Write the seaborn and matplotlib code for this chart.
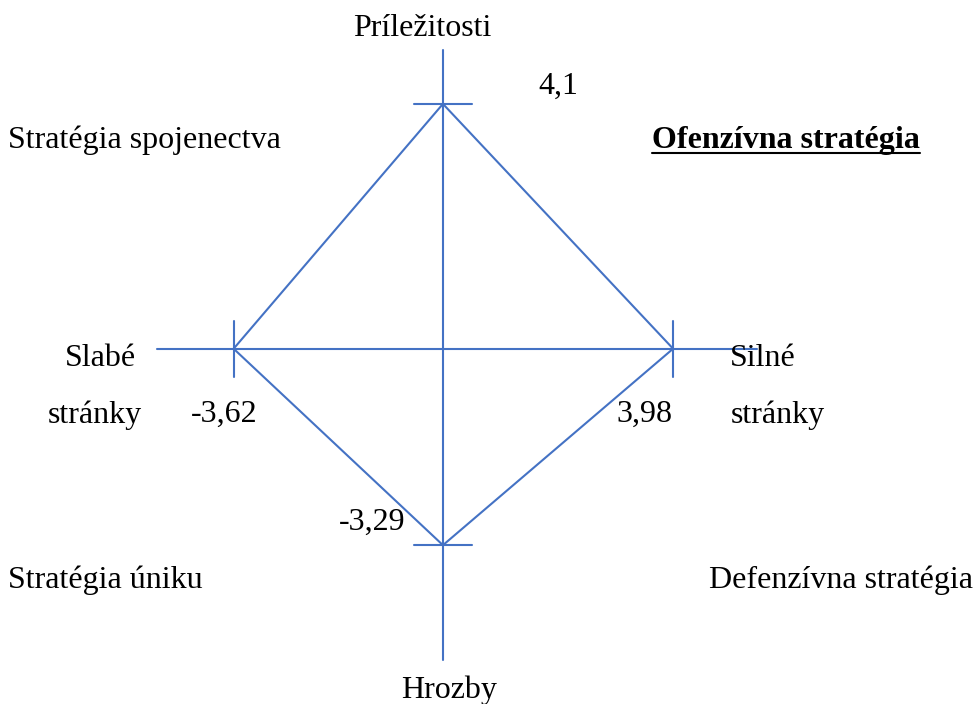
import matplotlib
matplotlib.use("Agg")
import matplotlib.pyplot as plt
import pandas as pd
import seaborn as sns

# SWOT scores
factors = ['Príležitosti', 'Silné stránky', 'Hrozby', 'Slabé stránky']
x_vals = [0.0, 3.98, 0.0, -3.62]
y_vals = [4.1, 0.0, -3.29, 0.0]
value_labels = ['4,1', '3,98', '-3,29', '-3,62']

BLUE = '#4472C4'
FS = 23

sns.set_theme(style='white')
plt.rcParams['font.family'] = ['Liberation Serif', 'DejaVu Serif']
plt.rcParams['text.color'] = 'black'

fig = plt.figure(figsize=(9.79, 7.04), dpi=100)
ax = fig.add_axes([0, 0, 1, 1])
ax.set_xlim(-7.66, 9.27)
ax.set_ylim(-5.95, 5.84)
ax.axis('off')

# axes cross
ax.plot([-4.95, 5.43], [0, 0], color=BLUE, lw=1.5)
ax.plot([0, 0], [-5.21, 5.0], color=BLUE, lw=1.5)

# diamond
df = pd.DataFrame({'x': x_vals + x_vals[:1], 'y': y_vals + y_vals[:1], 'order': range(5)})
sns.lineplot(data=df, x='x', y='y', sort=False, color=BLUE, lw=1.5, ax=ax, estimator=None)

# little ticks at each vertex
for xv, yv in zip(x_vals, y_vals):
    if xv == 0:
        ax.plot([xv - 0.5, xv + 0.5], [yv, yv], color=BLUE, lw=1.5)
    else:
        ax.plot([xv, xv], [yv - 0.47, yv + 0.47], color=BLUE, lw=1.5)

# value labels next to vertices
offsets = [(2.0, 0.3), (-0.49, -1.1), (-1.23, 0.39), (-0.17, -1.1)]
for xv, yv, lab, (dx, dy) in zip(x_vals, y_vals, value_labels, offsets):
    ax.text(xv + dx, yv + dy, lab, fontsize=FS, ha='center', va='center')

# axis names
ax.text(-0.35, 5.37, 'Príležitosti', fontsize=FS, ha='center', va='center')
ax.text(0.1, -5.72, 'Hrozby', fontsize=FS, ha='center', va='center')
ax.text(-6.54, -0.16, 'Slabé', fontsize=FS, ha='left', va='center')
ax.text(-6.83, -1.11, 'stránky', fontsize=FS, ha='left', va='center')
ax.text(4.97, -0.16, 'Silné', fontsize=FS, ha='left', va='center')
ax.text(4.97, -1.11, 'stránky', fontsize=FS, ha='left', va='center')

# quadrant strategies
tr = ax.transAxes
ax.text(0.008, 0.801, 'Stratégia spojenectva', fontsize=FS, ha='left', va='center', transform=tr)
ofs = ax.text(0.940, 0.801, 'Ofenzívna stratégia', fontsize=FS, ha='right', va='center',
              fontweight='bold', transform=tr)
ax.text(0.008, 0.176, 'Stratégia úniku', fontsize=FS, ha='left', va='center', transform=tr)
ax.text(0.994, 0.176, 'Defenzívna stratégia', fontsize=FS, ha='right', va='center', transform=tr)

# underline the bold one
fig.canvas.draw()
bb = ofs.get_window_extent().transformed(tr.inverted())
ax.plot([bb.x0, bb.x1], [0.783, 0.783], color='black', lw=1.5, transform=tr)

fig.savefig('out.png', dpi=100)
